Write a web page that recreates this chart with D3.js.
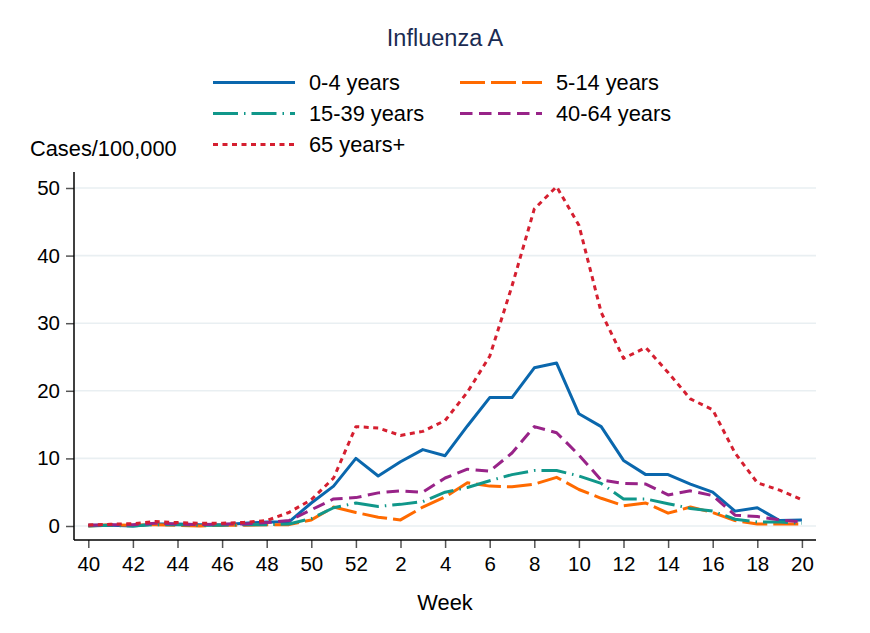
<!DOCTYPE html>
<html>
<head>
<meta charset="utf-8">
<script src="https://cdn.jsdelivr.net/npm/d3@7"></script>
<style>
  body { margin: 0; background: #fff; }
  svg { display: block; font-family: "Liberation Sans", Arial, sans-serif; }
</style>
</head>
<body>
<div id="chart"></div>
<script>
// Weeks of the season (40..52, then 1..20)
const weeks = [40, 41, 42, 43, 44, 45, 46, 47, 48, 49, 50, 51, 52,
  1, 2, 3, 4, 5, 6, 7, 8, 9, 10, 11, 12, 13, 14, 15, 16, 17, 18, 19, 20];
const weekTicks = [40, 42, 44, 46, 48, 50, 52, 2, 4, 6, 8, 10, 12, 14, 16, 18, 20];
const yTicks = [0, 10, 20, 30, 40, 50];

// Cases per 100,000 by age group
const age0to4 = [0.1, 0.1, 0.0, 0.3, 0.3, 0.2, 0.2, 0.4, 0.6, 0.6, 3.4, 5.9, 10.0,
  7.4, 9.5, 11.3, 10.4, 14.8, 19.0, 19.0, 23.4, 24.1, 16.6, 14.7, 9.7, 7.6, 7.6, 6.2, 5.0, 2.2, 2.7, 0.8, 0.9];
const age5to14 = [0.0, 0.2, 0.1, 0.2, 0.1, 0.0, 0.1, 0.1, 0.2, 0.2, 0.9, 2.8, 2.0,
  1.3, 0.9, 2.8, 4.3, 6.4, 5.9, 5.8, 6.2, 7.2, 5.4, 4.1, 3.0, 3.4, 1.9, 2.8, 2.0, 0.8, 0.3, 0.3, 0.3];
const age15to39 = [0.0, 0.1, 0.0, 0.2, 0.2, 0.1, 0.1, 0.2, 0.2, 0.3, 1.1, 2.7, 3.4,
  2.9, 3.2, 3.6, 5.0, 5.7, 6.7, 7.6, 8.2, 8.2, 7.4, 6.3, 4.0, 4.0, 3.3, 2.6, 2.2, 1.0, 0.6, 0.6, 0.4];
const age40to64 = [0.1, 0.2, 0.2, 0.4, 0.3, 0.2, 0.3, 0.3, 0.5, 0.8, 2.4, 4.0, 4.2,
  4.9, 5.2, 5.0, 7.1, 8.4, 8.1, 10.8, 14.7, 13.8, 10.5, 6.8, 6.3, 6.2, 4.6, 5.2, 4.5, 1.6, 1.4, 0.9, 0.6];
const age65plus = [0.15, 0.25, 0.35, 0.65, 0.5, 0.4, 0.4, 0.55, 0.8, 2.0, 3.9, 7.1, 14.7,
  14.5, 13.4, 14.0, 15.6, 19.8, 25.1, 35.5, 46.9, 50.2, 44.5, 31.6, 24.8, 26.4, 22.7, 18.8, 17.2, 10.8, 6.4, 5.3, 3.9];

const seriesNames = ["0-4 years", "5-14 years", "15-39 years", "40-64 years", "65 years+"];
const seriesValues = [age0to4, age5to14, age15to39, age40to64, age65plus];

// Styles per series
const colors = ["#0a67ad", "#ff6a00", "#10978a", "#982388", "#d51f30"];
const dashes = [null, "25,6", "25,6,1.5,6", "12.5,6.5", "5,4.5"];

const WIDTH = 870;
const HEIGHT = 633;

const svg = d3.select("#chart")
  .append("svg")
  .attr("width", WIDTH)
  .attr("height", HEIGHT);

// Scales: x by position in the season, y by rate
const x = d3.scaleLinear().domain([0, weeks.length - 1]).range([88.3, 801.9]);
const y = d3.scaleLinear().domain([0, 50]).range([526, 188]);

const AXIS_LEFT = 74, AXIS_RIGHT = 816, AXIS_BOTTOM = 540, AXIS_TOP = 172;

// Gridlines
svg.append("g")
  .selectAll("line")
  .data(yTicks)
  .enter()
  .append("line")
  .attr("x1", AXIS_LEFT)
  .attr("x2", AXIS_RIGHT)
  .attr("y1", d => y(d))
  .attr("y2", d => y(d))
  .attr("stroke", "#e9eff2")
  .attr("stroke-width", 1.6);

// Y axis
const yAxis = svg.append("g")
  .attr("transform", `translate(${AXIS_LEFT},0)`)
  .call(d3.axisLeft(y).tickValues(yTicks).tickSize(8).tickPadding(6));
yAxis.select(".domain").remove();
yAxis.append("line")
  .attr("x1", 0).attr("x2", 0)
  .attr("y1", AXIS_TOP).attr("y2", AXIS_BOTTOM)
  .attr("stroke", "#000").attr("stroke-width", 1.5);

// X axis
const xAxis = svg.append("g")
  .attr("transform", `translate(0,${AXIS_BOTTOM})`)
  .call(d3.axisBottom(x)
    .tickValues(weekTicks.map(w => weeks.indexOf(w)))
    .tickFormat(i => weeks[i])
    .tickSize(8)
    .tickPadding(8));
xAxis.select(".domain").remove();
xAxis.append("line")
  .attr("x1", AXIS_LEFT).attr("x2", AXIS_RIGHT)
  .attr("y1", 0).attr("y2", 0)
  .attr("stroke", "#000").attr("stroke-width", 1.5);

[yAxis, xAxis].forEach(ax => {
  ax.selectAll(".tick line").attr("stroke", "#555").attr("stroke-width", 1.5);
  ax.selectAll(".tick text")
    .attr("fill", "#000")
    .style("font-family", "'Liberation Sans', Arial, sans-serif")
    .style("font-size", "20.5px");
});

// Lines
const line = d3.line()
  .x((d, i) => x(i))
  .y(d => y(d));

svg.append("g")
  .selectAll("path")
  .data(seriesValues)
  .enter()
  .append("path")
  .attr("d", d => line(d))
  .attr("fill", "none")
  .attr("stroke", (d, i) => colors[i])
  .attr("stroke-width", 3)
  .attr("stroke-dasharray", (d, i) => dashes[i])
  .attr("stroke-linejoin", "round");

// Titles
svg.append("text")
  .attr("x", 445)
  .attr("y", 46)
  .attr("text-anchor", "middle")
  .attr("fill", "#1a2b52")
  .style("font-size", "23.5px")
  .text("Influenza A");

svg.append("text")
  .attr("x", 30)
  .attr("y", 156)
  .style("font-size", "21.8px")
  .text("Cases/100,000");

svg.append("text")
  .attr("x", 445)
  .attr("y", 610)
  .attr("text-anchor", "middle")
  .style("font-size", "21.8px")
  .text("Week");

// Legend: two columns, three rows
const legend = svg.append("g");
const legendItems = legend.selectAll("g")
  .data(seriesNames)
  .enter()
  .append("g")
  .attr("transform", (d, i) => `translate(${(i % 2) * 247 + 213}, ${Math.floor(i / 2) * 31 + 82.5})`);

legendItems.append("line")
  .attr("x1", 0)
  .attr("x2", 82)
  .attr("stroke", (d, i) => colors[i])
  .attr("stroke-width", 3)
  .attr("stroke-dasharray", (d, i) => dashes[i]);

legendItems.append("text")
  .attr("x", 96)
  .attr("y", 7.5)
  .style("font-size", "21.8px")
  .text(d => d);
</script>
</body>
</html>
